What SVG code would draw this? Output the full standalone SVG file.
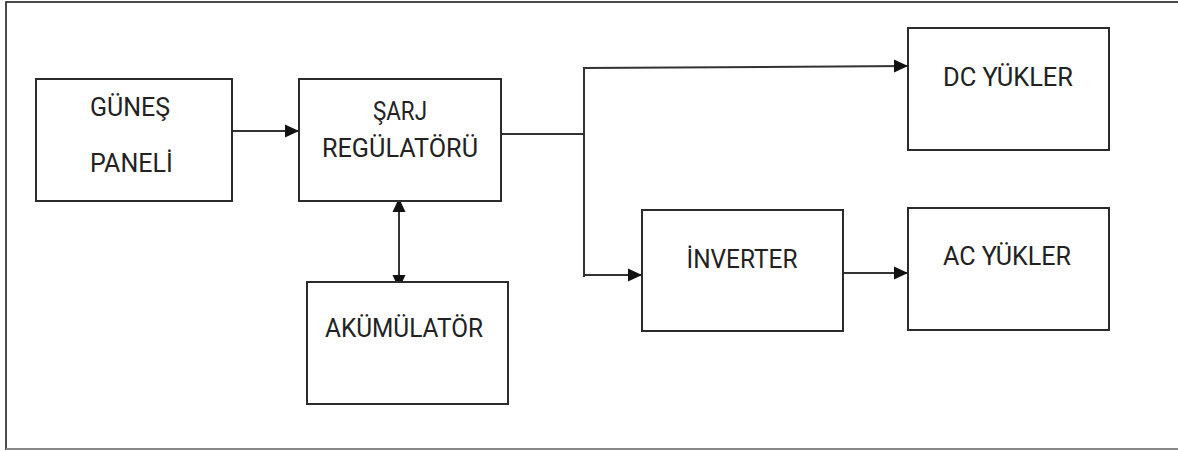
<svg xmlns="http://www.w3.org/2000/svg" width="1178" height="450" viewBox="0 0 1178 450">
<defs>
<marker id="ah" markerWidth="15" markerHeight="15" refX="14" refY="7.5" orient="auto-start-reverse" markerUnits="userSpaceOnUse">
<path d="M0,1 L14,7.5 L0,14 z" fill="#111"/>
</marker>
<style>
.box{fill:#fff;stroke:#2b2b2b;stroke-width:2}
.t{font-family:Roboto,"Liberation Sans",sans-serif;font-size:25px;fill:#222}
.c{text-anchor:middle}
.ln{fill:none;stroke:#333;stroke-width:2}
</style>
</defs>
<rect width="1178" height="450" fill="#fff"/>
<g id="frame">
<path d="M6,450 L6,2 L1178,2" fill="none" stroke="#111" stroke-width="1.5"/>
<line x1="6" y1="449" x2="1178" y2="449" stroke="#888" stroke-width="2"/>
</g>
<g id="connectors">
<line class="ln" x1="232" y1="131" x2="299" y2="131" marker-end="url(#ah)"/>
<line class="ln" x1="501" y1="134" x2="584" y2="134"/>
<path class="ln" d="M584,277 L584,68 L908,66" marker-end="url(#ah)"/>
<line class="ln" x1="584" y1="275" x2="642" y2="275" marker-end="url(#ah)"/>
<line class="ln" x1="843" y1="273" x2="908" y2="273" marker-end="url(#ah)"/>
<line class="ln" x1="399" y1="198" x2="399" y2="289" marker-start="url(#ah)" marker-end="url(#ah)"/>
</g>
<g id="gunes">
<rect class="box" x="36" y="79" width="196" height="122"/>
<text class="t" x="90" y="116">GÜNEŞ</text>
<text class="t" x="90" y="172">PANELİ</text>
</g>
<g id="sarj">
<rect class="box" x="299" y="79" width="202" height="122"/>
<text class="t c" x="400" y="120" textLength="54" lengthAdjust="spacingAndGlyphs">ŞARJ</text>
<text class="t c" x="400" y="157" textLength="156" lengthAdjust="spacingAndGlyphs">REGÜLATÖRÜ</text>
</g>
<g id="dc">
<rect class="box" x="908" y="28" width="201" height="122"/>
<text class="t c" x="1008" y="86" textLength="130" lengthAdjust="spacingAndGlyphs">DC YÜKLER</text>
</g>
<g id="inverter">
<rect class="box" x="642" y="210" width="201" height="121"/>
<text class="t c" x="742" y="268" textLength="111" lengthAdjust="spacingAndGlyphs">İNVERTER</text>
</g>
<g id="ac">
<rect class="box" x="908" y="208" width="201" height="122"/>
<text class="t c" x="1007" y="265" textLength="128" lengthAdjust="spacingAndGlyphs">AC YÜKLER</text>
</g>
<g id="aku">
<rect class="box" x="307" y="282" width="201" height="122"/>
<text class="t c" x="404" y="337" textLength="158" lengthAdjust="spacingAndGlyphs">AKÜMÜLATÖR</text>
</g>
</svg>
